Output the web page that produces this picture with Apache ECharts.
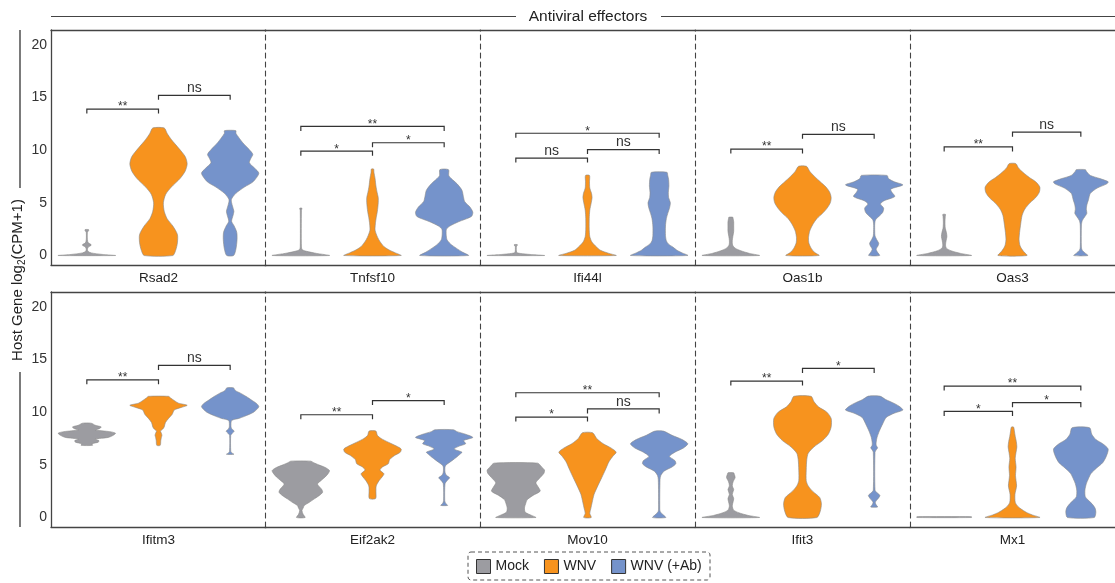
<!DOCTYPE html>
<html>
<head>
<meta charset="utf-8">
<style>
  html, body { margin: 0; padding: 0; background: #fff; }
  #chart { width: 1115px; height: 583px; }
</style>
<script src="https://cdn.jsdelivr.net/npm/echarts@6/dist/echarts.min.js"></script>
</head>
<body>
<div id="chart"></div>
<script>
const genes = ['Rsad2', 'Tnfsf10', 'Ifi44l', 'Oas1b', 'Oas3', 'Ifitm3', 'Eif2ak2', 'Mov10', 'Ifit3', 'Mx1']
const groups = ['Mock', 'WNV', 'WNV (+Ab)']
const groupColors = ['#9c9ca1', '#f7931e', '#7593cb']
const yTicks = [0, 5, 10, 15, 20]

// violin outlines: [log2(CPM+1), half width relative to widest point]
const mockShapes = [
  [[0, 1], [0.1, 0.55], [0.25, 0.15], [0.4, 0.04], [0.6, 0.02], [0.8, 0.05], [1.0, 0.16], [1.2, 0.05], [1.5, 0.02], [2.2, 0.02], [2.35, 0.06], [2.46, 0.06]],
  [[0, 1], [0.2, 0.55], [0.4, 0.2], [0.55, 0.05], [0.8, 0.02], [4.3, 0.02], [4.4, 0.035], [4.5, 0.035]],
  [[0, 1], [0.1, 0.5], [0.2, 0.15], [0.3, 0.03], [0.9, 0.02], [0.95, 0.05], [1.04, 0.05]],
  [[0, 1], [0.2, 0.65], [0.45, 0.35], [0.7, 0.15], [1.0, 0.06], [1.4, 0.05], [1.8, 0.07], [2.3, 0.1], [2.8, 0.1], [3.2, 0.1], [3.5, 0.08], [3.63, 0.07]],
  [[0, 1], [0.2, 0.6], [0.45, 0.25], [0.7, 0.08], [1.0, 0.05], [1.4, 0.07], [1.8, 0.1], [2.2, 0.08], [2.6, 0.04], [3.2, 0.03], [3.7, 0.04], [3.9, 0.05]],
  [[6.85, 0.2], [7.0, 0.18], [7.15, 0.4], [7.3, 0.42], [7.45, 0.3], [7.6, 0.75], [7.8, 0.92], [8.0, 1.0], [8.15, 0.8], [8.3, 0.3], [8.45, 0.45], [8.6, 0.5], [8.75, 0.3], [8.95, 0.15]],
  [[0, 0.15], [0.3, 0.08], [0.66, 0.04], [0.9, 0.08], [1.14, 0.12], [1.45, 0.3], [1.77, 0.47], [2.1, 0.65], [2.4, 0.76], [2.7, 0.72], [3.0, 0.62], [3.2, 0.58], [3.5, 0.7], [3.85, 0.85], [4.2, 0.96], [4.46, 1.0], [4.75, 0.85], [5.0, 0.62], [5.2, 0.45], [5.35, 0.35]],
  [[0, 0.7], [0.2, 0.55], [0.5, 0.33], [0.9, 0.3], [1.3, 0.34], [1.7, 0.4], [2.1, 0.6], [2.5, 0.85], [2.9, 0.78], [3.3, 0.7], [3.7, 0.82], [4.2, 0.98], [4.5, 1.0], [4.8, 0.9], [5.16, 0.76]],
  [[0, 1.0], [0.2, 0.6], [0.45, 0.28], [0.7, 0.1], [1.1, 0.05], [1.5, 0.08], [1.8, 0.1], [2.2, 0.05], [2.65, 0.1], [3.0, 0.05], [3.4, 0.08], [3.8, 0.15], [4.1, 0.12], [4.24, 0.1]],
  [[0, 1], [0.08, 1]]
]
const wnvShapes = [
  [[0, 0.5], [0.5, 0.6], [1.2, 0.66], [2, 0.66], [2.8, 0.5], [3.5, 0.3], [4.2, 0.2], [5, 0.17], [5.8, 0.25], [6.5, 0.45], [7.3, 0.75], [8, 0.93], [8.7, 1.0], [9.4, 0.93], [10.2, 0.7], [11, 0.45], [11.6, 0.3], [12.1, 0.2]],
  [[0, 1.0], [0.25, 0.8], [0.5, 0.6], [0.8, 0.42], [1.1, 0.32], [1.5, 0.22], [1.9, 0.15], [2.4, 0.09], [3.0, 0.1], [3.6, 0.13], [4.2, 0.17], [5.0, 0.2], [5.5, 0.2], [6.0, 0.16], [6.6, 0.12], [7.3, 0.09], [7.9, 0.05], [8.2, 0.04]],
  [[0, 1.0], [0.2, 0.75], [0.5, 0.45], [0.9, 0.28], [1.3, 0.15], [1.8, 0.08], [2.5, 0.06], [3.5, 0.06], [4.3, 0.08], [5.0, 0.13], [5.5, 0.16], [5.9, 0.14], [6.4, 0.08], [7.0, 0.07], [7.6, 0.07]],
  [[0, 0.58], [0.3, 0.42], [0.7, 0.3], [1.2, 0.22], [1.7, 0.21], [2.3, 0.25], [2.9, 0.35], [3.5, 0.5], [4.0, 0.7], [4.5, 0.86], [5.0, 0.97], [5.5, 1.0], [6.0, 0.95], [6.5, 0.82], [7.0, 0.62], [7.5, 0.42], [8.0, 0.25], [8.46, 0.14]],
  [[0, 0.53], [0.4, 0.4], [0.9, 0.28], [1.5, 0.24], [2.2, 0.26], [3.0, 0.3], [3.8, 0.35], [4.4, 0.45], [5.0, 0.64], [5.5, 0.85], [6.0, 0.98], [6.5, 1.0], [7.0, 0.85], [7.4, 0.62], [7.9, 0.38], [8.3, 0.22], [8.72, 0.12]],
  [[6.85, 0.06], [7.3, 0.08], [7.6, 0.1], [7.8, 0.12], [8.0, 0.1], [8.2, 0.07], [8.4, 0.15], [8.6, 0.2], [9.0, 0.24], [9.4, 0.35], [9.8, 0.48], [10.2, 0.55], [10.45, 0.8], [10.65, 1.0], [10.85, 0.7], [11.1, 0.55], [11.35, 0.42], [11.5, 0.35]],
  [[1.8, 0.11], [2.5, 0.12], [3.0, 0.13], [3.5, 0.23], [3.9, 0.35], [4.15, 0.4], [4.5, 0.26], [4.8, 0.35], [5.1, 0.55], [5.5, 0.6], [5.9, 0.78], [6.2, 0.97], [6.5, 1.0], [6.8, 0.82], [7.15, 0.55], [7.5, 0.3], [7.8, 0.17], [8.2, 0.12]],
  [[0, 0.13], [0.4, 0.08], [0.9, 0.12], [1.4, 0.16], [2.2, 0.23], [3.0, 0.36], [3.8, 0.5], [4.5, 0.62], [5.3, 0.75], [5.8, 0.88], [6.2, 1.0], [6.6, 0.82], [7.0, 0.55], [7.5, 0.32], [8.04, 0.18]],
  [[0, 0.5], [0.6, 0.62], [1.3, 0.66], [1.9, 0.6], [2.5, 0.35], [3.0, 0.2], [3.5, 0.13], [4.5, 0.13], [5.5, 0.15], [6.1, 0.2], [6.7, 0.4], [7.3, 0.7], [7.9, 0.9], [8.6, 1.0], [9.4, 1.0], [10.0, 0.85], [10.5, 0.56], [11.0, 0.4], [11.5, 0.3]],
  [[0, 1.0], [0.25, 0.72], [0.5, 0.5], [0.8, 0.32], [1.1, 0.18], [1.45, 0.1], [2.2, 0.09], [3.0, 0.15], [3.5, 0.13], [4.0, 0.11], [4.8, 0.13], [5.6, 0.1], [6.2, 0.13], [6.7, 0.16], [7.2, 0.14], [7.7, 0.1], [8.2, 0.07], [8.58, 0.04]]
]
const abShapes = [
  [[0, 0.12], [0.6, 0.2], [1.5, 0.24], [2.2, 0.23], [2.8, 0.14], [3.25, 0.05], [3.8, 0.1], [4.2, 0.13], [4.7, 0.08], [5.3, 0.04], [5.9, 0.2], [6.5, 0.5], [7.0, 0.8], [7.8, 1.0], [8.3, 0.85], [8.8, 0.67], [9.2, 0.72], [9.6, 0.79], [10.1, 0.65], [10.7, 0.44], [11.2, 0.3], [11.6, 0.2], [11.85, 0.2]],
  [[0, 0.85], [0.3, 0.65], [0.7, 0.42], [1.1, 0.22], [1.5, 0.1], [2.0, 0.07], [2.5, 0.08], [2.8, 0.2], [3.2, 0.5], [3.7, 0.95], [4.1, 1.0], [4.6, 0.9], [5.1, 0.72], [5.6, 0.67], [6.2, 0.62], [6.8, 0.45], [7.3, 0.25], [7.6, 0.16], [8.15, 0.15]],
  [[0, 1.0], [0.25, 0.8], [0.5, 0.62], [0.8, 0.48], [1.1, 0.32], [1.4, 0.25], [1.9, 0.22], [2.8, 0.22], [3.5, 0.25], [4.0, 0.3], [4.5, 0.36], [5.0, 0.39], [5.5, 0.33], [6.0, 0.32], [6.6, 0.34], [7.2, 0.33], [7.6, 0.3], [7.9, 0.27]],
  [[0, 0.19], [0.3, 0.12], [0.6, 0.07], [0.9, 0.13], [1.15, 0.16], [1.5, 0.09], [1.85, 0.03], [2.3, 0.02], [3.0, 0.02], [3.4, 0.05], [3.8, 0.2], [4.1, 0.3], [4.5, 0.33], [4.9, 0.22], [5.2, 0.35], [5.6, 0.72], [6.0, 0.62], [6.3, 0.58], [6.7, 1.0], [7.0, 0.7], [7.3, 0.5], [7.6, 0.45]],
  [[0, 0.26], [0.25, 0.15], [0.5, 0.05], [0.8, 0.02], [2.8, 0.02], [3.3, 0.05], [3.7, 0.15], [4.0, 0.22], [4.4, 0.2], [4.8, 0.22], [5.3, 0.28], [5.9, 0.35], [6.4, 0.6], [6.8, 0.95], [7.0, 1.0], [7.3, 0.7], [7.6, 0.35], [8.0, 0.2], [8.15, 0.17]],
  [[6.0, 0.13], [6.15, 0.05], [6.3, 0.02], [7.8, 0.02], [8.0, 0.08], [8.2, 0.14], [8.4, 0.06], [8.6, 0.03], [9.2, 0.05], [9.4, 0.3], [9.6, 0.5], [10.0, 0.82], [10.5, 1.0], [10.8, 0.93], [11.1, 0.77], [11.5, 0.55], [11.8, 0.36], [12.05, 0.18], [12.3, 0.12]],
  [[1.15, 0.12], [1.35, 0.05], [1.6, 0.02], [3.2, 0.03], [3.5, 0.1], [3.77, 0.19], [4.0, 0.08], [4.3, 0.03], [4.9, 0.04], [5.25, 0.2], [5.7, 0.42], [6.0, 0.55], [6.2, 0.62], [6.5, 0.35], [6.8, 0.55], [7.0, 0.75], [7.3, 0.68], [7.6, 1.0], [7.9, 0.75], [8.15, 0.45], [8.33, 0.32]],
  [[0, 0.23], [0.3, 0.12], [0.6, 0.03], [1.0, 0.02], [3.6, 0.03], [4.0, 0.06], [4.4, 0.17], [4.8, 0.45], [5.1, 0.58], [5.4, 0.55], [5.8, 0.36], [6.2, 0.55], [6.6, 0.85], [7.0, 1.0], [7.4, 0.8], [7.8, 0.45], [8.2, 0.15]],
  [[1.0, 0.12], [1.2, 0.07], [1.45, 0.04], [1.8, 0.14], [2.1, 0.2], [2.35, 0.1], [2.6, 0.03], [6.2, 0.03], [6.45, 0.08], [6.62, 0.12], [6.85, 0.07], [7.15, 0.07], [7.6, 0.1], [8.2, 0.18], [8.9, 0.3], [9.5, 0.42], [9.9, 0.7], [10.2, 1.0], [10.5, 0.9], [10.8, 0.72], [11.2, 0.4], [11.52, 0.2]],
  [[0, 0.49], [0.5, 0.55], [0.9, 0.52], [1.3, 0.41], [1.7, 0.25], [2.0, 0.16], [2.6, 0.15], [3.2, 0.2], [3.7, 0.28], [4.2, 0.38], [4.7, 0.58], [5.2, 0.8], [5.8, 0.93], [6.5, 1.0], [7.0, 0.8], [7.4, 0.55], [7.9, 0.4], [8.52, 0.32]]
]

// significance brackets: [from group, to group, height, label]
const brackets = [
  [[0, 1, 13.9, '**'], [1, 2, 15.2, 'ns']],
  [[0, 1, 9.9, '*'], [1, 2, 10.7, '*'], [0, 2, 12.25, '**']],
  [[0, 1, 9.25, 'ns'], [1, 2, 10.05, 'ns'], [0, 2, 11.6, '*']],
  [[0, 1, 10.1, '**'], [1, 2, 11.5, 'ns']],
  [[0, 1, 10.3, '**'], [1, 2, 11.7, 'ns']],
  [[0, 1, 13.07, '**'], [1, 2, 14.43, 'ns']],
  [[0, 1, 9.75, '**'], [1, 2, 11.1, '*']],
  [[0, 1, 9.53, '*'], [1, 2, 10.3, 'ns'], [0, 2, 11.84, '**']],
  [[0, 1, 12.95, '**'], [1, 2, 14.15, '*']],
  [[0, 1, 10.07, '*'], [1, 2, 10.9, '*'], [0, 2, 12.47, '**']]
]

const FONT = 'Liberation Sans, Arial, sans-serif'
const colLeft = [51, 265, 480, 695, 910]
const rowTop = [30, 292]
const panelH = 235
const shapesByGroup = [mockShapes, wnvShapes, abShapes]

function violinRender(shape) {
  return function (params, api) {
    const cx = api.coord([api.value(0), 0])[0]
    const hw = api.size([1, 0])[0] * 0.4
    const right = []
    const left = []
    shape.forEach(function (p) {
      const y = api.coord([0, p[0]])[1]
      right.push([cx + p[1] * hw, y])
      left.unshift([cx - p[1] * hw, y])
    })
    return {
      type: 'polygon',
      shape: { points: right.concat(left), smooth: 0.25 },
      style: { fill: api.visual('color'), stroke: '#8a8a8a', lineWidth: 0.6 }
    }
  }
}

function bracketRender(list) {
  return function (params, api) {
    const b = list[params.dataIndex]
    const p1 = api.coord([b[0], b[2]])
    const p2 = api.coord([b[1], b[2]])
    const isNs = b[3] === 'ns'
    return {
      type: 'group',
      children: [
        {
          type: 'polyline',
          shape: { points: [[p1[0], p1[1] + 4.5], [p1[0], p1[1]], [p2[0], p2[1]], [p2[0], p2[1] + 4.5]] },
          style: { stroke: '#333', lineWidth: 1.2, fill: null }
        },
        {
          type: 'text',
          x: (p1[0] + p2[0]) / 2,
          y: isNs ? p1[1] : p1[1] - 2,
          style: {
            text: b[3],
            fill: '#333',
            font: (isNs ? '14px ' : '12px ') + FONT,
            textAlign: 'center',
            textVerticalAlign: isNs ? 'bottom' : 'middle'
          }
        }
      ]
    }
  }
}

const grids = []
const xAxes = []
const yAxes = []
const series = []

genes.forEach(function (gene, g) {
  const row = Math.floor(g / 5)
  const col = g % 5
  grids.push({
    left: colLeft[col],
    top: rowTop[row],
    width: 215,
    height: panelH
  })
  xAxes.push({
    type: 'category',
    gridIndex: g,
    data: groups,
    name: gene,
    nameLocation: 'middle',
    nameGap: 6,
    nameTextStyle: { fontFamily: FONT, fontSize: 13.5, color: '#222', verticalAlign: 'top' },
    axisLine: { onZero: false, lineStyle: { color: '#444', width: 1.3 } },
    axisTick: { show: false },
    axisLabel: { show: false }
  })
  xAxes.push({
    type: 'category',
    gridIndex: g,
    position: 'top',
    data: groups,
    axisLine: { onZero: false, lineStyle: { color: '#444', width: 1.3 } },
    axisTick: { show: false },
    axisLabel: { show: false }
  })
  yAxes.push({
    type: 'value',
    gridIndex: g,
    min: -0.9,
    max: 21.4,
    splitLine: { show: false },
    axisTick: { show: false },
    axisLine: {
      show: true,
      onZero: false,
      lineStyle: col === 0
        ? { color: '#444', width: 1.3 }
        : { color: '#444', width: 1.1, type: [5, 4] }
    },
    axisLabel: {
      show: col === 0,
      customValues: yTicks,
      margin: 4,
      fontFamily: FONT,
      fontSize: 14,
      color: '#333'
    }
  })
  groups.forEach(function (name, k) {
    series.push({
      type: 'custom',
      name: name,
      xAxisIndex: g * 2,
      yAxisIndex: g,
      itemStyle: { color: groupColors[k] },
      renderItem: violinRender(shapesByGroup[k][g]),
      data: [[k, shapesByGroup[k][g][shapesByGroup[k][g].length - 1][0]]],
      silent: true
    })
  })
  series.push({
    type: 'custom',
    name: 'brackets',
    xAxisIndex: g * 2,
    yAxisIndex: g,
    renderItem: bracketRender(brackets[g]),
    data: brackets[g].map(function (b) { return [b[0], b[2]] }),
    silent: true
  })
})

const chart = echarts.init(document.getElementById('chart'))
chart.setOption({
  animation: false,
  grid: grids,
  xAxis: xAxes,
  yAxis: yAxes,
  series: series,
  legend: {
    data: groups,
    left: 476,
    top: 559,
    icon: 'rect',
    itemWidth: 14,
    itemHeight: 14,
    itemGap: 15,
    padding: 0,
    itemStyle: { borderColor: '#333', borderWidth: 1 },
    textStyle: { fontFamily: FONT, fontSize: 14, color: '#222' }
  },
  graphic: [
    { type: 'line', shape: { x1: 51, y1: 16.5, x2: 516, y2: 16.5 }, style: { stroke: '#444', lineWidth: 1.2 } },
    { type: 'line', shape: { x1: 661, y1: 16.5, x2: 1115, y2: 16.5 }, style: { stroke: '#444', lineWidth: 1.2 } },
    {
      type: 'text', x: 588, y: 16.5,
      style: { text: 'Antiviral effectors', font: '15.5px ' + FONT, fill: '#222', textAlign: 'center', textVerticalAlign: 'middle' }
    },
    { type: 'line', shape: { x1: 20, y1: 30, x2: 20, y2: 188 }, style: { stroke: '#222', lineWidth: 1.2 } },
    { type: 'line', shape: { x1: 20, y1: 372, x2: 20, y2: 527 }, style: { stroke: '#222', lineWidth: 1.2 } },
    {
      type: 'text', x: 18, y: 280, rotation: Math.PI / 2,
      style: {
        text: 'Host Gene log{s|2}(CPM+1)',
        font: '15px ' + FONT,
        fill: '#222',
        textAlign: 'center',
        textVerticalAlign: 'middle',
        rich: { s: { fontSize: 10, fontFamily: FONT, padding: [8, 0, 0, 0] } }
      }
    },
    {
      type: 'rect', shape: { x: 468, y: 552, width: 242, height: 28, r: 3 },
      style: { fill: null, stroke: '#555', lineWidth: 1, lineDash: [4, 3] }
    }
  ]
})
</script>
</body>
</html>
